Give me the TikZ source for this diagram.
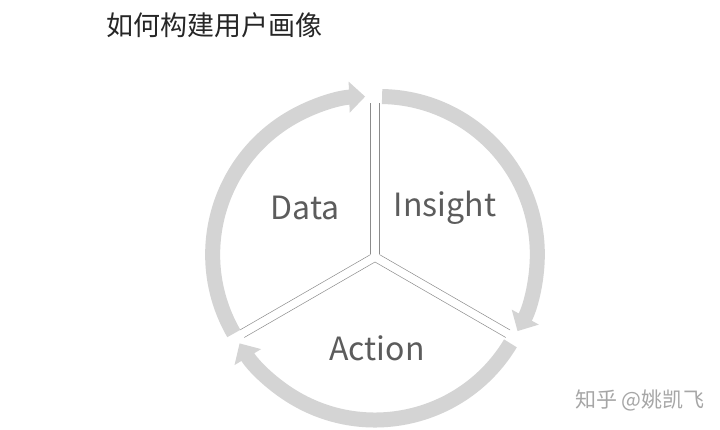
\documentclass[tikz,border=0pt]{standalone}
\usepackage{fontspec}
\setmainfont{Noto Sans CJK SC}
\usetikzlibrary{arrows.meta,calc}
\definecolor{ringgray}{HTML}{D4D4D4}
\definecolor{edgegray}{HTML}{8C8C8C}
\definecolor{textgray}{HTML}{5C5C5C}
\tikzset{
  ring/.style={ringgray,line width=15pt,-{Triangle[width=30pt,length=16pt]}},
  edge/.style={edgegray,line width=0.5pt},
  word/.style={textgray,font=\fontsize{32}{32}\selectfont,inner sep=0pt}
}
\begin{document}
\begin{tikzpicture}[x=1pt,y=1pt]
\useasboundingbox[fill=white](0,0)rectangle(720,430);
\pgfmathsetmacro{\rr}{158}
\pgfmathsetmacro{\re}{151}
\coordinate (c) at (375,173);
\coordinate (cd) at ($(c)+(150:5)$);
\coordinate (ci) at ($(c)+(30:5)$);
\coordinate (ca) at ($(c)+(270:5)$);
% sector edges
\draw[edge](cd)--++(90:\re);
\draw[edge](cd)--++(210:\re);
\draw[edge](ci)--++(90:\re);
\draw[edge](ci)--++(-30:\re);
\draw[edge](ca)--++(-30:\re);
\draw[edge](ca)--++(210:\re);
% arrows
\draw[ring]($(cd)+(210:\rr)$)arc[start angle=210,end angle=92,radius=\rr];
\draw[ring]($(ci)+(89:\rr)$)arc[start angle=89,end angle=-29,radius=\rr];
\draw[ring]($(ca)+(-31:\rr)$)arc[start angle=-31,end angle=-149,radius=\rr];
\node[word](data) at (305,222){Data};
\node[word](insight) at (445,222){Insight};
\node[word](action) at (377,82){Action};
\node[anchor=west,inner sep=0pt,font=\fontsize{27}{27}\selectfont,text=black!85](title) at (106,405){如何构建用户画像};
\node[anchor=east,inner sep=0pt,font=\fontsize{21}{21}\selectfont,text=black!35](mark) at (705,30){知乎 @姚凯飞};
\end{tikzpicture}
\end{document}
